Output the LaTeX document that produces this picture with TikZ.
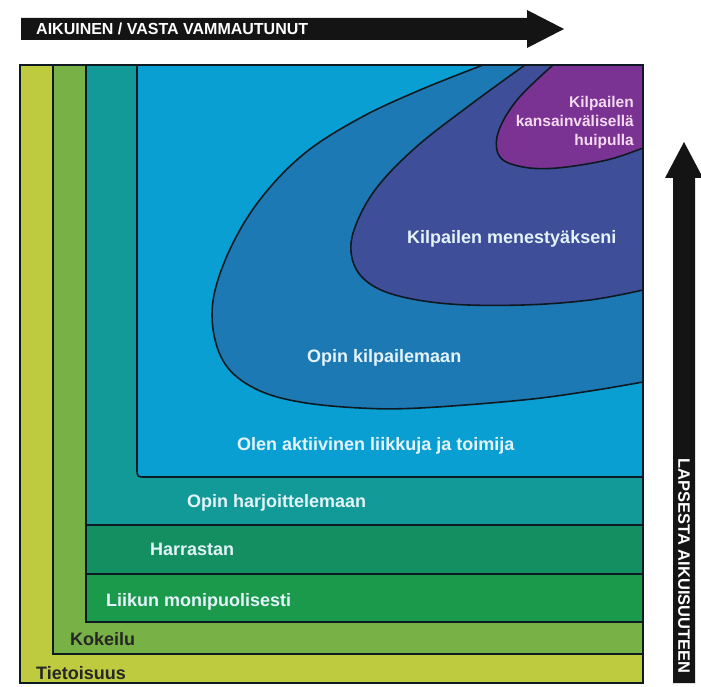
\documentclass[tikz,border=0pt]{standalone}
\usepackage{fontspec}
\setmainfont{Liberation Sans}
\definecolor{tietoisuus}{HTML}{BFCB3E}
\definecolor{kokeilu}{HTML}{78B145}
\definecolor{liikun}{HTML}{1C9A4C}
\definecolor{harrastan}{HTML}{138F62}
\definecolor{harjoittelu}{HTML}{119A97}
\definecolor{aktiivinen}{HTML}{0A9FD2}
\definecolor{kilpailu}{HTML}{1D79B3}
\definecolor{menestys}{HTML}{3F4E98}
\definecolor{huippu}{HTML}{7B3393}
\definecolor{rajaviiva}{HTML}{0E1A22}
\definecolor{vaaleateksti}{HTML}{E4F3FA}
\definecolor{pinkkiteksti}{HTML}{F4DAF0}

\begin{document}
\begin{tikzpicture}[x=1pt, y=-1pt,
    band/.style={draw=rajaviiva, line width=1.6pt},
    lbl/.style={font=\fontsize{18}{20}\selectfont\bfseries, text=vaaleateksti, inner sep=0pt},
    darklbl/.style={lbl, text=black!85},
    arrowlbl/.style={font=\fontsize{16}{18}\selectfont\bfseries, text=white, inner sep=0pt}]
	%%%%% START %%%%%
	\useasboundingbox (0,0) rectangle (701,687);
	\fill[white] (0,0) rectangle (701,687);

	% arrows
	\fill[black!92] (21,18) -- (527,18) -- (527,10) -- (564,29) -- (527,48) -- (527,40) -- (21,40) -- cycle;
	\fill[black!92] (673,683) -- (673,178) -- (665,178) -- (684,142) -- (703,178) -- (695,178) -- (695,683) -- cycle;

	% nested bands
	\draw[band, fill=tietoisuus] (20,65) rectangle (643,683);
	\draw[band, fill=kokeilu] (53,65) rectangle (643,654);
	\draw[band, fill=liikun] (86,574) rectangle (643,622);
	\draw[band, fill=harrastan] (86,525) rectangle (643,574);
	\draw[band, fill=harjoittelu] (86,65) rectangle (643,525);
	\draw[band, fill=aktiivinen] (137,65) -- (137,468) .. controls (137,477) .. (146,477) -- (643,477) -- (643,65) -- cycle;

	% competition shapes
	\filldraw[band, fill=kilpailu] plot[smooth, tension=0.6] coordinates {(483,65) (420,90) (360,118) (305,153) (262,197) (232,245) (214,295) (214,335) (228,368) (258,390) (300,402) (360,408) (420,408) (523,400) (590,391) (643,382)} -- (643,65) -- cycle;
	\filldraw[band, fill=menestys] plot[smooth, tension=0.6] coordinates {(525,65) (470,105) (415,148) (375,190) (354,230) (352,258) (365,280) (395,295) (450,304) (523,305) (590,300) (643,290)} -- (643,65) -- cycle;
	\filldraw[band, fill=huippu] plot[smooth, tension=0.6] coordinates {(553,65) (517,100) (498,133) (500,157) (523,167) (557,168) (607,160) (643,148)} -- (643,65) -- cycle;

	\draw[line width=2pt, draw=rajaviiva] (20,65) rectangle (643,683);

	% labels
	\node[arrowlbl, anchor=base west] (aikuinen) at (36,35) {AIKUINEN / VASTA VAMMAUTUNUT};
	\node[arrowlbl, font=\fontsize{16.5}{18}\selectfont\bfseries, rotate=-90] (lapsesta) at (684,566) {LAPSESTA AIKUISUUTEEN};

	\node[darklbl, anchor=base west] (tietoisuus) at (36,679) {Tietoisuus};
	\node[darklbl, anchor=base west] (kokeilu) at (70,645) {Kokeilu};
	\node[lbl, anchor=base west] (liikun) at (106,606) {Liikun monipuolisesti};
	\node[lbl, anchor=base west] (harrastan) at (150,555) {Harrastan};
	\node[lbl, anchor=base west] (harjoittelu) at (187,507) {Opin harjoittelemaan};
	\node[lbl, anchor=base west] (aktiivinen) at (237,450) {Olen aktiivinen liikkuja ja toimija};
	\node[lbl, anchor=base west] (kilpailu) at (307,362) {Opin kilpailemaan};
	\node[lbl, anchor=base west] (menestys) at (407,243) {Kilpailen menestyäkseni};
	\node[lbl, text=pinkkiteksti, font=\fontsize{15.5}{19}\selectfont\bfseries, align=right, anchor=north east] (huippu) at (634,96) {Kilpailen\\kansainvälisellä\\huipulla};

	%%%%% END %%%%%
\end{tikzpicture}
\end{document}
